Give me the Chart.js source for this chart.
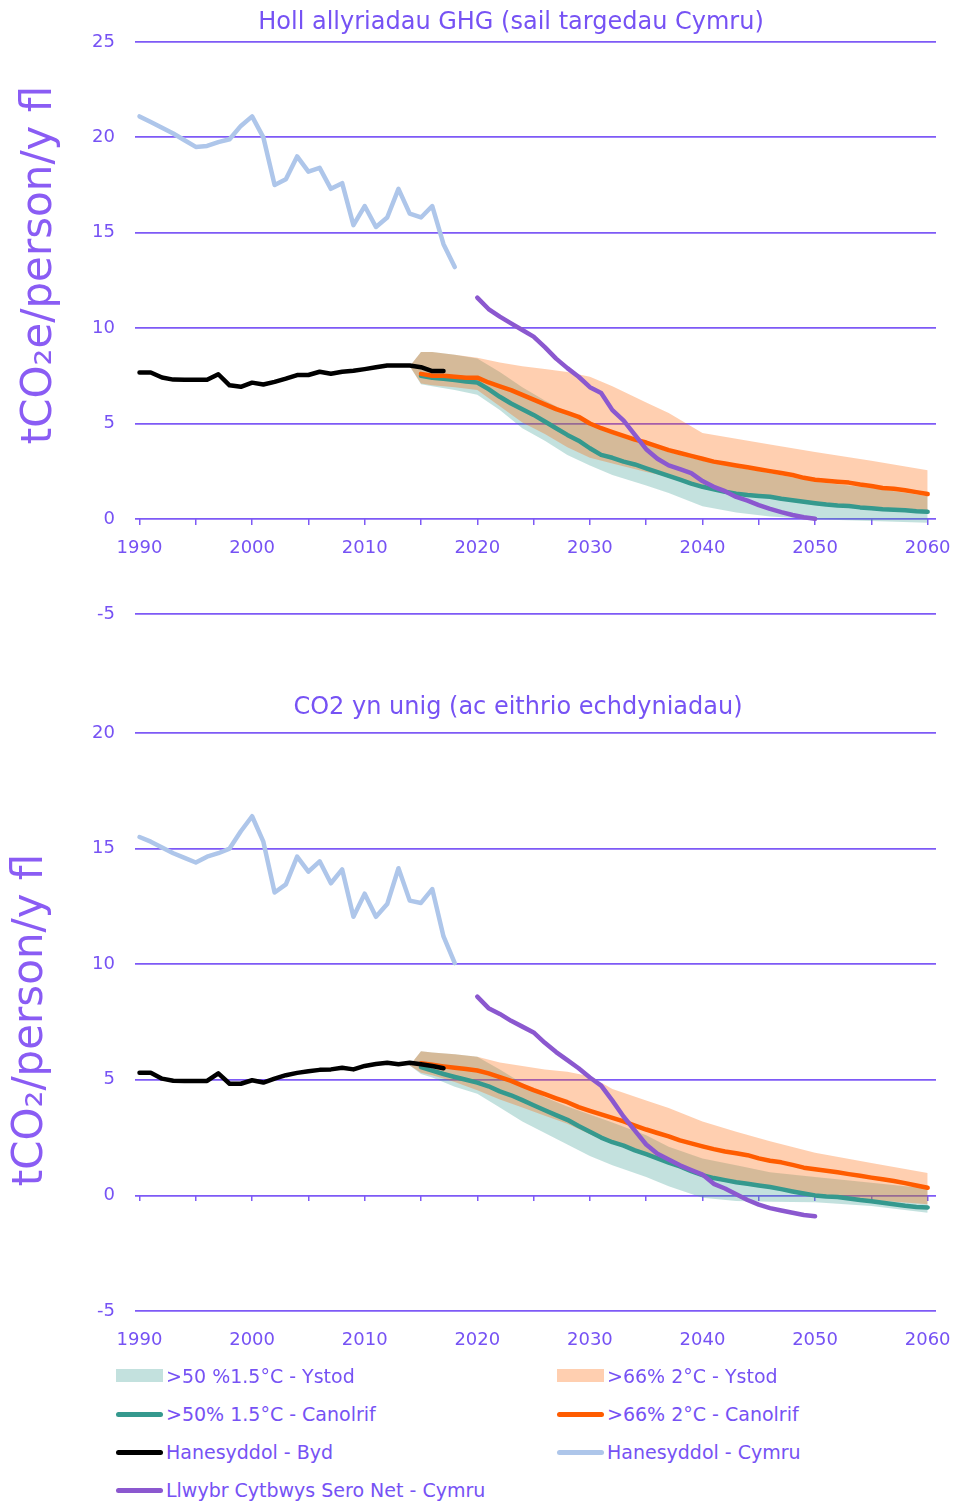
<!DOCTYPE html>
<html><head><meta charset="utf-8">
<script src="https://cdn.jsdelivr.net/npm/chart.js@4.4.0/dist/chart.umd.min.js"></script>
<style>
html,body{margin:0;padding:0;background:#fff;width:967px;height:1501px;overflow:hidden;position:relative;}
canvas{position:absolute;left:0;}
#c1{top:0;}
#c2{top:660px;}
.leg{position:absolute;font-family:'DejaVu Sans';font-size:19px;line-height:24px;color:#7652f4;white-space:nowrap;}
.sw{position:absolute;}
</style></head><body>
<canvas id="c1" width="967" height="645"></canvas>
<canvas id="c2" width="967" height="710"></canvas>
<div id="legend"></div>
<script>
// ---------- DATA ----------
const titleGHG = 'Holl allyriadau GHG (sail targedau Cymru)';
const titleCO2 = 'CO2 yn unig (ac eithrio echdyniadau)';
const yTitleGHG = 'tCO\u2082e/person/y fl';
const yTitleCO2 = 'tCO\u2082/person/y fl';

const xTickValues = [1990,1995,2000,2005,2010,2015,2020,2025,2030,2035,2040,2045,2050,2055,2060];

const legRange15 = '>50 %1.5°C - Ystod';
const legRange2 = '>66% 2°C - Ystod';
const legMid15 = '>50% 1.5°C - Canolrif';
const legMid2 = '>66% 2°C - Canolrif';
const legByd = 'Hanesyddol - Byd';
const legCymru = 'Hanesyddol - Cymru';
const legLlwybr = 'Llwybr Cytbwys Sero Net - Cymru';

const cymruYears = [1990,1991,1992,1993,1994,1995,1996,1997,1998,1999,2000,2001,2002,2003,2004,2005,2006,2007,2008,2009,2010,2011,2012,2013,2014,2015,2016,2017,2018];
const cymruGHG = [21.1,20.8,20.5,20.2,19.85,19.5,19.55,19.75,19.9,20.6,21.1,20.0,17.5,17.8,19.0,18.2,18.4,17.3,17.6,15.4,16.4,15.3,15.8,17.3,16.0,15.8,16.4,14.4,13.2];
const cymruCO2 = [15.5,15.3,15.05,14.8,14.6,14.4,14.65,14.8,15.0,15.75,16.4,15.3,13.1,13.45,14.65,14.0,14.45,13.5,14.1,12.05,13.05,12.05,12.6,14.15,12.75,12.65,13.25,11.2,10.05];

const bydYears = [1990,1991,1992,1993,1994,1995,1996,1997,1998,1999,2000,2001,2002,2003,2004,2005,2006,2007,2008,2009,2010,2011,2012,2013,2014,2015,2016,2017];
const bydGHG = [7.67,7.67,7.41,7.3,7.29,7.29,7.29,7.58,7.0,6.92,7.14,7.04,7.18,7.35,7.54,7.54,7.71,7.61,7.71,7.76,7.85,7.95,8.04,8.04,8.04,7.95,7.75,7.75];
const bydCO2 = [5.3,5.3,5.05,4.96,4.95,4.95,4.95,5.28,4.83,4.83,4.98,4.88,5.05,5.2,5.3,5.37,5.43,5.45,5.52,5.45,5.6,5.68,5.74,5.67,5.74,5.67,5.6,5.5];

const llwybrYears = [2020,2021,2022,2023,2024,2025,2026,2027,2028,2029,2030,2031,2032,2033,2034,2035,2036,2037,2038,2039,2040,2041,2042,2043,2044,2045,2046,2047,2048,2049,2050];
const llwybrGHG = [11.6,11.0,10.6,10.25,9.9,9.55,9.0,8.4,7.9,7.45,6.9,6.6,5.7,5.15,4.4,3.65,3.15,2.8,2.6,2.4,1.98,1.68,1.45,1.15,0.95,0.72,0.52,0.35,0.2,0.08,0.0];
const llwybrCO2 = [8.6,8.1,7.85,7.55,7.3,7.05,6.6,6.2,5.85,5.5,5.1,4.75,4.1,3.4,2.8,2.2,1.8,1.55,1.3,1.1,0.9,0.5,0.3,0.05,-0.2,-0.4,-0.55,-0.65,-0.75,-0.85,-0.9];

const scenYears = [2015,2016,2017,2018,2019,2020,2021,2022,2023,2024,2025,2026,2027,2028,2029,2030,2031,2032,2033,2034,2035,2036,2037,2038,2039,2040,2041,2042,2043,2044,2045,2046,2047,2048,2049,2050,2051,2052,2053,2054,2055,2056,2057,2058,2059,2060];
const canolrif2GHG = [7.6,7.5,7.5,7.45,7.4,7.4,7.15,6.95,6.75,6.5,6.25,6.0,5.75,5.55,5.35,5.0,4.75,4.55,4.35,4.15,4.0,3.8,3.6,3.45,3.3,3.15,3.0,2.9,2.8,2.7,2.6,2.5,2.4,2.3,2.15,2.05,2.0,1.95,1.9,1.8,1.72,1.62,1.58,1.5,1.4,1.3];
const canolrif15GHG = [7.5,7.4,7.35,7.28,7.2,7.15,6.8,6.4,6.05,5.75,5.45,5.1,4.75,4.4,4.1,3.7,3.35,3.2,3.0,2.85,2.65,2.45,2.25,2.05,1.85,1.68,1.55,1.42,1.32,1.25,1.2,1.16,1.05,0.98,0.9,0.82,0.75,0.7,0.67,0.6,0.55,0.5,0.48,0.45,0.4,0.37];
const canolrif2CO2 = [5.72,5.65,5.58,5.52,5.47,5.4,5.28,5.12,4.95,4.75,4.55,4.38,4.2,4.03,3.82,3.66,3.5,3.35,3.2,3.02,2.85,2.7,2.55,2.38,2.25,2.12,2.0,1.9,1.82,1.74,1.6,1.5,1.43,1.32,1.2,1.13,1.07,1.0,0.92,0.85,0.77,0.7,0.62,0.53,0.43,0.33];
const canolrif15CO2 = [5.55,5.4,5.25,5.12,5.0,4.88,4.72,4.5,4.33,4.12,3.9,3.68,3.47,3.27,3.0,2.75,2.5,2.3,2.15,1.95,1.78,1.6,1.42,1.25,1.05,0.88,0.75,0.66,0.57,0.5,0.43,0.36,0.27,0.17,0.08,0.0,-0.05,-0.07,-0.13,-0.2,-0.25,-0.32,-0.38,-0.45,-0.5,-0.52];

const rangeYears = [2014,2015,2016,2018,2020,2022,2024,2026,2028,2030,2032,2035,2037,2040,2043,2046,2050,2055,2060];
const ystod2HiGHG  = [8.0,8.75,8.75,8.6,8.45,8.2,8.0,7.85,7.7,7.45,6.95,6.1,5.55,4.5,4.2,3.9,3.5,3.05,2.55];
const ystod2LoGHG  = [8.0,7.1,7.0,6.9,6.75,5.9,5.05,4.45,3.75,3.2,2.9,2.45,2.2,1.65,1.35,1.1,0.8,0.55,0.37];
const ystod15HiGHG = [8.0,8.75,8.75,8.6,8.4,7.7,6.9,6.2,5.6,5.0,4.45,3.9,3.5,3.05,2.7,2.4,1.95,1.62,1.2];
const ystod15LoGHG = [8.0,7.05,6.95,6.75,6.5,5.7,4.75,4.1,3.35,2.8,2.3,1.75,1.35,0.66,0.33,0.12,-0.02,-0.12,-0.2];

const ystod2HiCO2  = [5.62,6.23,6.18,6.1,6.0,5.75,5.6,5.45,5.35,5.15,4.6,4.1,3.78,3.2,2.75,2.34,1.85,1.4,0.97];
const ystod2LoCO2  = [5.62,5.3,5.2,4.9,4.55,4.15,3.8,3.45,3.1,2.65,2.25,1.72,1.38,0.88,0.57,0.35,0.05,-0.2,-0.38];
const ystod15HiCO2 = [5.62,6.23,6.18,6.1,6.0,5.45,4.85,4.25,3.85,3.5,3.15,2.6,2.1,1.6,1.3,1.0,0.8,0.55,0.3];
const ystod15LoCO2 = [5.62,5.25,5.1,4.7,4.4,3.8,3.2,2.7,2.2,1.7,1.3,0.8,0.4,-0.1,-0.24,-0.27,-0.3,-0.46,-0.75];

// ---------- STYLE ----------
const AXIS_COLOR = 'rgb(126,90,246)';
const TEXT_COLOR = '#7652f4';
const YTITLE_COLOR = '#8a5cf4';
const C_PURPLE = '#8b58cf';
const C_BLACK = '#000000';
const C_BLUE = '#aec6ea';
const C_ORANGE = '#ff5c00';
const C_TEAL = '#35998e';
const F_TEAL = 'rgba(55,155,145,0.30)';
const F_ORANGE = 'rgba(255,100,0,0.31)';
const FONT = "'DejaVu Sans'";
const X_MIN = 1989.6, X_MAX = 2060.74;
Chart.defaults.font.family = FONT;

function pts(xs, ys) { return xs.map((x, i) => ({x: x, y: ys[i]})); }
function line(label, xs, ys, color) {
  return {label, data: pts(xs, ys), borderColor: color, backgroundColor: color, borderWidth: 4.5,
    pointRadius: 0, pointHoverRadius: 0, tension: 0, fill: false, borderCapStyle: 'round', borderJoinStyle: 'round'};
}
function band(label, xs, ys, color, fill) {
  return {label, data: pts(xs, ys), borderColor: 'rgba(0,0,0,0)', backgroundColor: color, borderWidth: 0,
    pointRadius: 0, pointHoverRadius: 0, tension: 0, fill: fill};
}

const textPlugin = {
  id: 'texts',
  afterDraw(chart, args, o) {
    const ctx = chart.ctx;
    ctx.save();
    ctx.fillStyle = TEXT_COLOR;
    ctx.textAlign = 'center';
    ctx.textBaseline = 'middle';
    ctx.font = '24px ' + FONT;
    ctx.fillText(o.title, o.tx, o.ty);
    ctx.translate(o.yx, o.yy);
    ctx.rotate(-Math.PI / 2);
    ctx.fillStyle = YTITLE_COLOR;
    ctx.font = '42px ' + FONT;
    ctx.fillText(o.yTitle, 0, 0);
    ctx.restore();
  }
};

function noPad(s) { s.paddingLeft = 0; s.paddingRight = 0; }

function makeChart(id, d) {
  const datasets = [
    line(legLlwybr, llwybrYears, d.llwybr, C_PURPLE),
    line(legByd, bydYears, d.byd, C_BLACK),
    line(legCymru, cymruYears, d.cymru, C_BLUE),
    line(legMid2, scenYears, d.mid2, C_ORANGE),
    line(legMid15, scenYears, d.mid15, C_TEAL),
    band(legRange2, rangeYears, d.hi2, F_ORANGE, '+1'),
    band(legRange2 + ' lo', rangeYears, d.lo2, F_ORANGE, false),
    band(legRange15, rangeYears, d.hi15, F_TEAL, '+1'),
    band(legRange15 + ' lo', rangeYears, d.lo15, F_TEAL, false)
  ];
  const setTicks = s => { s.ticks = xTickValues.map(v => ({value: v})); };
  const scales = {
    x: {
      type: 'linear', min: X_MIN, max: X_MAX, position: {y: 0},
      afterBuildTicks: setTicks,
      afterFit: s => { s.height = 0; noPad(s); },
      grid: {drawOnChartArea: false, drawTicks: true, tickLength: 6, color: AXIS_COLOR, lineWidth: 1.5},
      border: {display: false},
      ticks: {color: TEXT_COLOR, font: {size: 18}, padding: 13, maxRotation: 0, autoSkip: false,
        callback: v => (d.xLabelsAtZero && v % 10 === 0) ? String(v) : ''}
    },
    y: {
      type: 'linear', min: d.ymin, max: d.ymax,
      afterFit: s => { s.width = 135; },
      ticks: {stepSize: 5, color: TEXT_COLOR, font: {size: 18}, padding: 20},
      grid: {color: AXIS_COLOR, lineWidth: 1.75, drawTicks: false},
      border: {display: false}
    }
  };
  if (!d.xLabelsAtZero) {
    scales.x2 = {
      type: 'linear', min: X_MIN, max: X_MAX, position: 'bottom',
      afterBuildTicks: setTicks,
      afterFit: s => { s.height = 40; noPad(s); },
      grid: {display: false, drawTicks: false},
      border: {display: false},
      ticks: {color: TEXT_COLOR, font: {size: 18}, padding: 19, maxRotation: 0, autoSkip: false,
        callback: v => (v % 10 === 0) ? String(v) : ''}
    };
  }
  return new Chart(document.getElementById(id), {
    type: 'line',
    data: {datasets},
    options: {
      responsive: false, animation: false, events: [],
      layout: {padding: d.padding},
      plugins: {legend: {display: false}, tooltip: {enabled: false}, title: {display: false},
        texts: d.texts},
      scales
    },
    plugins: [textPlugin]
  });
}

makeChart('c1', {
  llwybr: llwybrGHG, byd: bydGHG, cymru: cymruGHG, mid2: canolrif2GHG, mid15: canolrif15GHG,
  hi2: ystod2HiGHG, lo2: ystod2LoGHG, hi15: ystod15HiGHG, lo15: ystod15LoGHG,
  ymin: -5, ymax: 25, xLabelsAtZero: true,
  padding: {left: 0, right: 31, top: 42, bottom: 29},
  texts: {title: titleGHG, tx: 511, ty: 23, yTitle: yTitleGHG, yx: 40, yy: 265}
});
makeChart('c2', {
  llwybr: llwybrCO2, byd: bydCO2, cymru: cymruCO2, mid2: canolrif2CO2, mid15: canolrif15CO2,
  hi2: ystod2HiCO2, lo2: ystod2LoCO2, hi15: ystod15HiCO2, lo15: ystod15LoCO2,
  ymin: -5, ymax: 20, xLabelsAtZero: false,
  padding: {left: 0, right: 31, top: 73, bottom: 19},
  texts: {title: titleCO2, tx: 518, ty: 48, yTitle: yTitleCO2, yx: 31, yy: 360}
});

// ---------- LEGEND ----------
const legendItems = [
  {label: legRange15, kind: 'box', color: F_TEAL, col: 0, row: 0},
  {label: legRange2, kind: 'box', color: F_ORANGE, col: 1, row: 0},
  {label: legMid15, kind: 'line', color: C_TEAL, col: 0, row: 1},
  {label: legMid2, kind: 'line', color: C_ORANGE, col: 1, row: 1},
  {label: legByd, kind: 'line', color: C_BLACK, col: 0, row: 2},
  {label: legCymru, kind: 'line', color: C_BLUE, col: 1, row: 2},
  {label: legLlwybr, kind: 'line', color: C_PURPLE, col: 0, row: 3}
];
const legEl = document.getElementById('legend');
legendItems.forEach(it => {
  const cy = 1376 + it.row * 38;
  const sx = it.col === 0 ? 116 : 557;
  const sw = document.createElement('div');
  sw.className = 'sw';
  if (it.kind === 'box') {
    sw.style.cssText = `left:${sx}px;top:${cy-7}px;width:47px;height:13px;background:${it.color};`;
  } else {
    sw.style.cssText = `left:${sx}px;top:${cy-2.5}px;width:47px;height:5px;border-radius:3px;background:${it.color};`;
  }
  legEl.appendChild(sw);
  const t = document.createElement('div');
  t.className = 'leg';
  t.style.left = (sx + 50) + 'px';
  t.style.top = (cy - 12) + 'px';
  t.textContent = it.label;
  legEl.appendChild(t);
});
</script>
</body></html>
